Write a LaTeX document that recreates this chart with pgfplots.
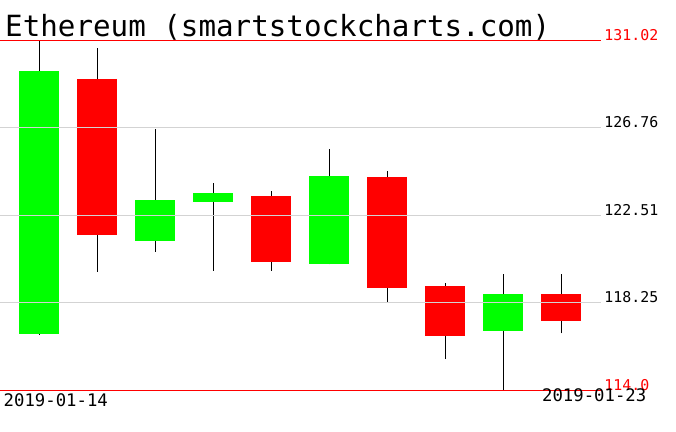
\documentclass[border=0pt]{standalone}
\usepackage{pgfplots}
\pgfplotsset{compat=1.18}
\usepackage{pgfplotstable}
\usepackage{fontspec}
\setmainfont{DejaVu Sans Mono}
\definecolor{gridgray}{RGB}{211,211,211}
\definecolor{upgreen}{RGB}{0,255,0}
\definecolor{downred}{RGB}{255,0,0}
% wicks: low / high per candle, separated by nan
\pgfplotstableread{
x y
0 116.70
0 131.02
0 nan
1 119.76
1 130.63
1 nan
2 120.73
2 126.70
2 nan
3 119.81
3 124.08
3 nan
4 119.81
4 123.69
4 nan
5 120.12
5 125.73
5 nan
6 118.30
6 124.66
6 nan
7 115.50
7 119.19
7 nan
8 114.00
8 119.63
8 nan
9 116.76
9 119.63
}\wicks
% rising bodies: open / close
\pgfplotstableread{
x y
0 116.74
0 129.53
0 nan
2 121.27
2 123.25
2 nan
3 123.15
3 123.59
3 nan
5 120.15
5 124.42
5 nan
8 116.89
8 118.67
}\upbodies
% falling bodies: open / close
\pgfplotstableread{
x y
1 129.14
1 121.56
1 nan
4 123.44
4 120.25
4 nan
6 124.37
6 118.98
6 nan
7 119.06
7 116.65
7 nan
9 118.67
9 117.38
}\downbodies
\begin{document}
\begin{tikzpicture}
\path[use as bounding box] (0,0) rectangle (676pt,431pt);
\begin{axis}[
  at={(0pt,41pt)}, anchor=south west,
  scale only axis, width=600.7pt, height=349.7pt,
  xmin=-0.678, xmax=9.679, ymin=114, ymax=131.02,
  xtick=\empty,
  ytick={118.25,122.51,126.76},
  yticklabels={118.25,122.51,126.76},
  extra y ticks={114.0,131.02},
  extra y tick labels={114.0,131.02},
  extra y tick style={major grid style={draw=downred, line width=1pt}, yticklabel style={text=downred}},
  ymajorgrids,
  major grid style={draw=gridgray, line width=1pt},
  yticklabel pos=right,
  yticklabel style={anchor=base west, inner sep=0pt, xshift=3.5pt, font=\fontsize{14.9}{16}\selectfont},
  major tick length=0pt,
  separate axis lines,
  axis line style={draw=none},
  axis on top,
  unbounded coords=jump,
]
\addplot[black, line width=1.2pt] table {\wicks};
\addplot[upgreen, line width=40pt] table {\upbodies};
\addplot[downred, line width=40pt] table {\downbodies};
\end{axis}
\node[anchor=base west, inner sep=0pt, font=\fontsize{29.2}{31}\selectfont] at (5pt,394pt) {Ethereum (smartstockcharts.com)};
\node[anchor=base west, inner sep=0pt, font=\fontsize{17.3}{19}\selectfont] at (3.5pt,25pt) {2019-01-14};
\node[anchor=base east, inner sep=0pt, font=\fontsize{17.3}{19}\selectfont] at (646.5pt,29.5pt) {2019-01-23};
\end{tikzpicture}
\end{document}
